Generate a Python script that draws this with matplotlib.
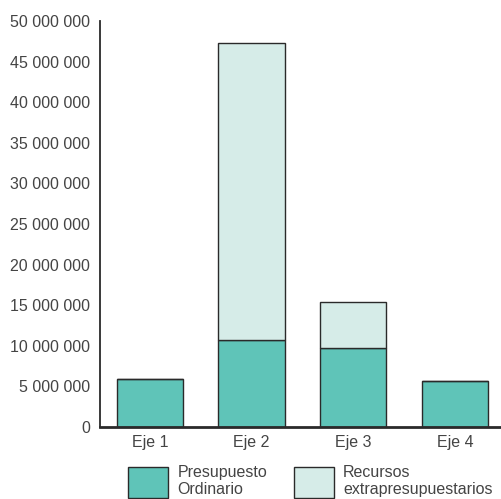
import matplotlib.pyplot as plt
import numpy as np

# data
categorias = ["Eje 1", "Eje 2", "Eje 3", "Eje 4"]
presupuesto_ordinario = [5_900_000, 10_750_000, 9_700_000, 5_700_000]
recursos_extra = [0, 36_550_000, 5_700_000, 0]
yticks = list(range(0, 50_000_001, 5_000_000))

VERDE = "#5fc4b8"
VERDE_CLARO = "#d6ece8"
BORDE = "#2a2a2a"
TEXTO = "#444444"

plt.rcParams["font.family"] = ["Liberation Sans", "DejaVu Sans"]
plt.rcParams["font.size"] = 11.5

fig = plt.figure(figsize=(5.02, 4.99), dpi=100)
ax = fig.add_axes([0.199, 0.1443, 0.801, 0.8137])

x = np.arange(len(categorias))
ancho = 0.65
ax.bar(x, presupuesto_ordinario, width=ancho, color=VERDE, edgecolor=BORDE,
       linewidth=1.0, label="Presupuesto\nOrdinario", zorder=2)
ax.bar(x, recursos_extra, width=ancho, bottom=presupuesto_ordinario,
       color=VERDE_CLARO, edgecolor=BORDE, linewidth=1.0,
       label="Recursos\nextrapresupuestarios", zorder=2)

ax.set_xlim(-0.49, 3.46)
ax.set_ylim(0, 50_000_000)
ax.set_yticks(yticks)
ax.set_yticklabels([f"{v:,}".replace(",", " ") for v in yticks], color=TEXTO)
ax.set_xticks(x)
ax.set_xticklabels(categorias, color=TEXTO)
ax.tick_params(axis="both", length=0, pad=7)
ax.tick_params(axis="x", pad=6)

for lado in ["top", "right"]:
    ax.spines[lado].set_visible(False)
ax.spines["left"].set_color(BORDE)
ax.spines["left"].set_linewidth(1.3)
ax.spines["bottom"].set_color(BORDE)
ax.spines["bottom"].set_linewidth(2.0)

leg = ax.legend(loc="upper left", bbox_to_anchor=(0.07, -0.093), ncol=2,
                frameon=False, handlelength=2.5, handleheight=2.6,
                handletextpad=0.6, columnspacing=1.65, labelcolor=TEXTO,
                borderaxespad=0, borderpad=0)
for t in leg.get_texts():
    t.set_linespacing(1.2)

fig.savefig("out.png", dpi=100)
